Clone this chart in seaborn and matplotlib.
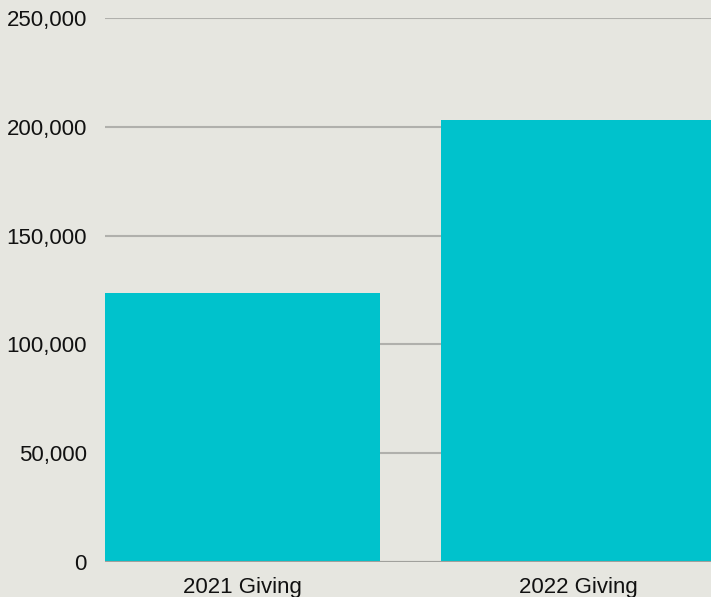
import matplotlib
matplotlib.use("Agg")
import matplotlib.pyplot as plt
import seaborn as sns
import pandas as pd
from matplotlib.ticker import FuncFormatter

categories = ["2021 Giving", "2022 Giving"]
values = [123600, 203000]
yticks = [0, 50000, 100000, 150000, 200000, 250000]

bg = "#E6E6E0"
sns.set_theme(style="white")
plt.rcParams['font.family'] = ['Liberation Sans', 'DejaVu Sans']

df = pd.DataFrame({"cat": categories, "val": values})

fig = plt.figure(figsize=(7.11, 5.97), dpi=100, facecolor=bg)
ax = fig.add_axes([105/711, 35/597, 1 - 105/711, 544/597])
ax.set_facecolor(bg)

sns.barplot(data=df, x="cat", y="val", color="#00C2CC", width=0.818,
            saturation=1, ax=ax, zorder=3, linewidth=0, edgecolor="none")

ax.set_ylim(0, 250000)
ax.set_xlim(-0.409, 1.394)
ax.set_yticks(yticks)
ax.yaxis.set_major_formatter(FuncFormatter(lambda v, p: f"{int(v):,}"))
ax.grid(axis="y", color="#B0B0AC", linewidth=1.5, zorder=0)
ax.set_axisbelow(True)
ax.axhline(0, color="#A0A09C", linewidth=1.5, zorder=4)
for s in ax.spines.values():
    s.set_visible(False)
ax.tick_params(axis="both", length=0, labelsize=16, colors="#111111")
ax.tick_params(axis="y", pad=13)
ax.tick_params(axis="x", pad=11)
ax.set_xlabel("")
ax.set_ylabel("")

fig.savefig("out.png", dpi=100, facecolor=bg)
